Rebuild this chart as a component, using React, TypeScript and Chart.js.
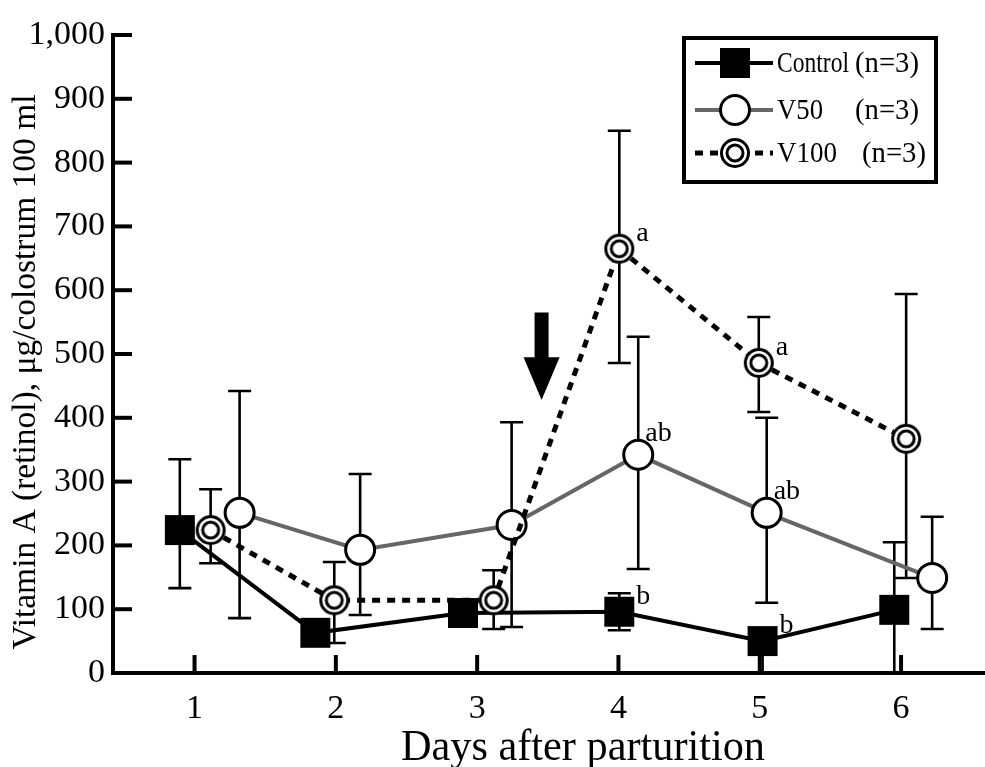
import React, { useEffect, useRef } from 'react';
import { Chart, registerables } from 'chart.js';

Chart.register(...registerables);

// ---------- data ----------
const days = [1, 2, 3, 4, 5, 6];
const yTickValues = [100, 200, 300, 400, 500, 600, 700, 800, 900, 1000];

const controlX = [0.896, 1.855, 2.9, 4.006, 5.02, 5.952];
const controlMean = [224, 63, 94, 96, 50, 99];
const controlHi = [335, 80, 106, 125, 70, 205];
const controlLo = [133, 46, 82, 67, -10, -10];
const controlLetters = ['', '', '', 'b', 'b', ''];

const v50X = [1.319, 2.172, 3.244, 4.14, 5.049, 6.22];
const v50Mean = [251, 193, 232, 342, 251, 149];
const v50Hi = [442, 312, 393, 527, 400, 245];
const v50Lo = [86, 91, 72, 163, 110, 69];
const v50Letters = ['', '', '', 'ab', 'ab', ''];

const v100X = [1.114, 1.989, 3.117, 4.006, 4.993, 6.036];
const v100Mean = [224, 114, 114, 665, 486, 367];
const v100Hi = [288, 174, 161, 850, 558, 594];
const v100Lo = [172, 47, 69, 486, 409, 149];
const v100Letters = ['', '', '', 'a', 'a', ''];

const seriesNames = ['Control', 'V50', 'V100'];
const seriesN = ['(n=3)', '(n=3)', '(n=3)'];

// arrow annotation (data units)
const arrowX = 3.456;
const arrowTop = 565;
const arrowHeadTop = 495;
const arrowTip = 428;

const xTitle = 'Days after parturition';
const yTitle = 'Vitamin A (retinol), \u03bcg/colostrum 100 ml';

// ---------- styles ----------
const FONT = '"Liberation Serif", "Times New Roman", serif';
const GRAY = '#666666';
const DASH = [8, 7];

function paintDoubleCircle(g: CanvasRenderingContext2D, x: number, y: number) {
  g.save();
  g.setLineDash([]);
  g.fillStyle = '#fff';
  g.beginPath();
  g.arc(x, y, 14.5, 0, Math.PI * 2);
  g.fill();
  g.strokeStyle = '#000';
  g.lineWidth = 3;
  g.beginPath();
  g.arc(x, y, 13.5, 0, Math.PI * 2);
  g.stroke();
  g.beginPath();
  g.arc(x, y, 8, 0, Math.PI * 2);
  g.stroke();
  g.restore();
}

function makeDoubleCircle(): HTMLCanvasElement {
  const c = document.createElement('canvas');
  c.width = 34;
  c.height = 34;
  const g = c.getContext('2d')!;
  paintDoubleCircle(g, 17, 17);
  return c;
}

const seriesList = [
  { xs: controlX, mean: controlMean, hi: controlHi, lo: controlLo, letters: controlLetters },
  { xs: v50X, mean: v50Mean, hi: v50Hi, lo: v50Lo, letters: v50Letters },
  { xs: v100X, mean: v100Mean, hi: v100Hi, lo: v100Lo, letters: v100Letters },
];

const overlayPlugin = {
  id: 'overlay',
  beforeDatasetsDraw(chart: any) {
    const { ctx, chartArea: a, scales } = chart;
    const x = scales.x;
    const y = scales.y;
    ctx.save();
    ctx.beginPath();
    ctx.rect(a.left, a.top - 40, a.right - a.left, a.bottom - a.top + 40);
    ctx.clip();
    ctx.strokeStyle = '#000';
    ctx.lineWidth = 2.6;
    ctx.lineCap = 'butt';
    const cap = 11.5;
    for (const s of seriesList) {
      for (let i = 0; i < s.xs.length; i++) {
        const px = x.getPixelForValue(s.xs[i]);
        const top = y.getPixelForValue(s.hi[i]);
        const bot = y.getPixelForValue(s.lo[i]);
        ctx.beginPath();
        ctx.moveTo(px, top);
        ctx.lineTo(px, bot);
        ctx.moveTo(px - cap, top);
        ctx.lineTo(px + cap, top);
        ctx.moveTo(px - cap, bot);
        ctx.lineTo(px + cap, bot);
        ctx.stroke();
      }
    }
    ctx.restore();

    // inner ticks
    ctx.save();
    ctx.strokeStyle = '#000';
    ctx.lineWidth = 4;
    for (const v of yTickValues) {
      const py = y.getPixelForValue(v);
      ctx.beginPath();
      ctx.moveTo(a.left, py);
      ctx.lineTo(a.left + 19, py);
      ctx.stroke();
    }
    for (const d of days) {
      const px = x.getPixelForValue(d);
      ctx.beginPath();
      ctx.moveTo(px, a.bottom);
      ctx.lineTo(px, a.bottom - 18);
      ctx.stroke();
    }
    ctx.restore();
  },
  afterDatasetsDraw(chart: any) {
    const { ctx, scales } = chart;
    const x = scales.x;
    const y = scales.y;

    // significance letters
    ctx.save();
    ctx.fillStyle = '#000';
    ctx.font = `28px ${FONT}`;
    ctx.textAlign = 'left';
    ctx.textBaseline = 'alphabetic';
    for (const s of seriesList) {
      for (let i = 0; i < s.xs.length; i++) {
        const t = s.letters[i];
        if (!t) continue;
        const px = x.getPixelForValue(s.xs[i]);
        const py = y.getPixelForValue(s.mean[i]);
        if (t.length > 1) ctx.fillText(t, px + 7, py - 14);
        else ctx.fillText(t, px + 17, py - 8);
      }
    }
    ctx.restore();

    // arrow
    const ax = x.getPixelForValue(arrowX);
    const aTop = y.getPixelForValue(arrowTop);
    const aHead = y.getPixelForValue(arrowHeadTop);
    const aTip = y.getPixelForValue(arrowTip);
    ctx.save();
    ctx.fillStyle = '#000';
    ctx.beginPath();
    ctx.moveTo(ax - 7, aTop);
    ctx.lineTo(ax + 7, aTop);
    ctx.lineTo(ax + 7, aHead);
    ctx.lineTo(ax + 18, aHead);
    ctx.lineTo(ax, aTip);
    ctx.lineTo(ax - 18, aHead);
    ctx.lineTo(ax - 7, aHead);
    ctx.closePath();
    ctx.fill();
    ctx.restore();

    // legend
    ctx.save();
    const lx = 684, ly = 38, lw = 252, lh = 144;
    ctx.fillStyle = '#fff';
    ctx.fillRect(lx, ly, lw, lh);
    ctx.strokeStyle = '#000';
    ctx.lineWidth = 4;
    ctx.strokeRect(lx, ly, lw, lh);
    const rows = [63, 110, 153];
    const nX = [855, 855, 862];
    const nameW = [72, 46, 60];
    for (let i = 0; i < 3; i++) {
      const ry = rows[i];
      ctx.beginPath();
      ctx.lineWidth = i === 2 ? 5 : 4;
      ctx.strokeStyle = i === 1 ? GRAY : '#000';
      ctx.setLineDash(i === 2 ? DASH : []);
      ctx.moveTo(695, ry);
      ctx.lineTo(773, ry);
      ctx.stroke();
      ctx.setLineDash([]);
      if (i === 0) {
        ctx.fillStyle = '#000';
        ctx.fillRect(735 - 15, ry - 15, 30, 30);
      } else if (i === 1) {
        ctx.fillStyle = '#fff';
        ctx.strokeStyle = '#000';
        ctx.lineWidth = 3;
        ctx.beginPath();
        ctx.arc(735, ry, 14.5, 0, Math.PI * 2);
        ctx.fill();
        ctx.stroke();
      } else {
        paintDoubleCircle(ctx, 735, ry);
      }
      ctx.fillStyle = '#000';
      ctx.font = `29px ${FONT}`;
      ctx.textAlign = 'left';
      ctx.textBaseline = 'middle';
      ctx.fillText(seriesNames[i], 777, ry + 1, nameW[i]);
      ctx.fillText(seriesN[i], nX[i], ry + 1, 64);
    }
    ctx.restore();

    // axis titles
    ctx.save();
    ctx.fillStyle = '#000';
    ctx.font = `44px ${FONT}`;
    ctx.textAlign = 'center';
    ctx.textBaseline = 'middle';
    ctx.fillText(xTitle, 583, 748, 364);
    ctx.translate(26, 372);
    ctx.rotate(-Math.PI / 2);
    ctx.font = `34px ${FONT}`;
    ctx.fillText(yTitle, 0, 0, 555);
    ctx.restore();
  },
};

export default function App() {
  const ref = useRef<HTMLCanvasElement | null>(null);

  useEffect(() => {
    if (!ref.current) return;
    const marker = makeDoubleCircle();
    const toPts = (xs: number[], ys: number[]) => xs.map((v, i) => ({ x: v, y: ys[i] }));
    const chart = new Chart(ref.current, {
      type: 'line',
      data: {
        datasets: [
          {
            label: seriesNames[0],
            data: toPts(controlX, controlMean),
            borderColor: '#000',
            borderWidth: 4,
            pointStyle: 'rect',
            pointRadius: 21.2,
            pointBackgroundColor: '#000',
            pointBorderColor: '#000',
            pointBorderWidth: 0,
            tension: 0,
            order: 2,
            clip: false,
          },
          {
            label: seriesNames[1],
            data: toPts(v50X, v50Mean),
            borderColor: GRAY,
            borderWidth: 4,
            pointStyle: 'circle',
            pointRadius: 14.5,
            pointBackgroundColor: '#fff',
            pointBorderColor: '#000',
            pointBorderWidth: 3,
            tension: 0,
            order: 1,
            clip: false,
          },
          {
            label: seriesNames[2],
            data: toPts(v100X, v100Mean),
            borderColor: '#000',
            borderWidth: 5,
            borderDash: DASH,
            pointStyle: marker,
            pointRadius: 15,
            tension: 0,
            order: 0,
            clip: false,
          },
        ],
      } as any,
      options: {
        animation: false,
        responsive: false,
        devicePixelRatio: 1,
        events: [],
        layout: { autoPadding: false, padding: { top: 35, right: 0, left: 0, bottom: 0 } },
        plugins: {
          legend: { display: false },
          tooltip: { enabled: false },
        },
        scales: {
          x: {
            type: 'linear',
            min: 0.423,
            max: 6.594,
            afterBuildTicks: (scale: any) => {
              scale.ticks = days.map((v) => ({ value: v }));
            },
            afterFit: (scale: any) => {
              scale.height = 94;
              scale.paddingLeft = 0;
              scale.paddingRight = 0;
            },
            grid: { display: true, drawOnChartArea: false, drawTicks: false },
            border: { display: true, color: '#000', width: 4 },
            ticks: {
              color: '#000',
              font: { family: FONT, size: 34 },
              padding: 16,
              maxRotation: 0,
              callback: (v: any) => String(v),
            },
          },
          y: {
            type: 'linear',
            min: 0,
            max: 1000,
            afterFit: (scale: any) => {
              scale.width = 113;
              scale.paddingTop = 0;
              scale.paddingBottom = 0;
            },
            grid: { display: true, drawOnChartArea: false, drawTicks: false },
            border: { display: true, color: '#000', width: 4 },
            ticks: {
              stepSize: 100,
              color: '#000',
              font: { family: FONT, size: 34 },
              padding: 8,
              callback: (v: any) => Number(v).toLocaleString('en-US'),
            },
          },
        },
      } as any,
      plugins: [overlayPlugin],
    });
    return () => chart.destroy();
  }, []);

  return (
    <div style={{ position: 'fixed', left: 0, top: 0, width: 985, height: 767, background: '#fff' }}>
      <canvas ref={ref} width={985} height={767} style={{ width: 985, height: 767, display: 'block' }} />
    </div>
  );
}
